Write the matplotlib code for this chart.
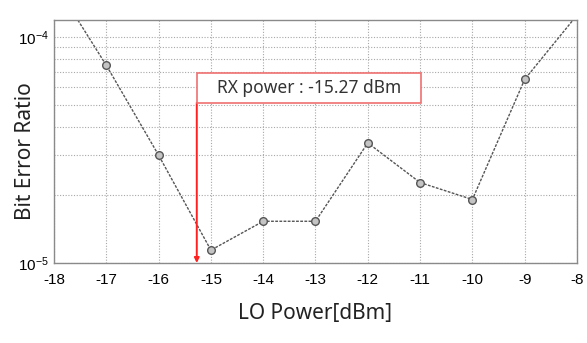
import matplotlib
matplotlib.use("Agg")
import matplotlib.pyplot as plt
from matplotlib.patches import Rectangle
from matplotlib.ticker import LogLocator, NullFormatter

# data
lo_power = [-18, -17, -16, -15, -14, -13, -12, -11, -10, -9, -8]
ber = [1.75e-4, 7.5e-5, 3.0e-5, 1.14e-5, 1.53e-5, 1.53e-5, 3.4e-5, 2.27e-5, 1.91e-5, 6.5e-5, 1.25e-4]
x_ticks = [-18, -17, -16, -15, -14, -13, -12, -11, -10, -9, -8]
rx_power = -15.27
rx_text = "RX power : -15.27 dBm"

fig = plt.figure(figsize=(5.87, 3.43), dpi=100)
ax = fig.add_axes([54 / 587, 1 - 263 / 343, (577 - 54) / 587, (263 - 20) / 343])

ax.plot(lo_power, ber, color="#555555", lw=1.0, ls=(0, (2, 1)),
        marker="o", ms=5.5, mfc="#c4c4c4", mec="#555555", mew=1.0)

ax.set_yscale("log")
ax.set_xlim(-18, -8)
ax.set_ylim(1e-5, 1.19e-4)
ax.set_xticks(x_ticks)
ax.set_xticklabels([str(v) for v in x_ticks], fontsize=11, family="Liberation Sans")
ax.yaxis.set_major_locator(LogLocator(base=10))
ax.yaxis.set_minor_locator(LogLocator(base=10, subs=range(2, 10)))
ax.yaxis.set_minor_formatter(NullFormatter())
for lab in ax.get_yticklabels():
    lab.set_fontsize(11)
    lab.set_family("Liberation Sans")

ax.grid(True, which="both", color="#a8a8a8", ls=(0, (1, 1.5)), lw=0.8)
ax.tick_params(which="both", length=0)
ax.tick_params(axis="x", pad=7)
ax.tick_params(axis="y", pad=4)
for s in ax.spines.values():
    s.set_color("#8a8a8a")
    s.set_linewidth(1.0)

ax.set_xlabel("LO Power[dBm]", fontsize=15, family="Noto Sans", color="#222222")
ax.set_ylabel("Bit Error Ratio", fontsize=15, family="Noto Sans", color="#222222")
ax.xaxis.set_label_coords(0.5, -(313 - 263) / 243)
ax.yaxis.set_label_coords(-(54 - 26) / 523, 0.46)
ax.xaxis.label.set_va("center")
ax.yaxis.label.set_va("center")

# red arrow and text box
box_bottom, box_top, box_right = 5.12e-5, 6.94e-5, -10.98
ax.annotate("", xy=(rx_power, 1e-5), xytext=(rx_power, box_bottom),
            arrowprops=dict(arrowstyle="-|>", color="#ff2020", lw=1.4, mutation_scale=7,
                            shrinkA=0, shrinkB=0))
ax.add_patch(Rectangle((rx_power, box_bottom), box_right - rx_power, box_top - box_bottom,
                       fc="white", ec="#f07070", lw=1.2, zorder=5))
ax.text((rx_power + box_right) / 2, (box_bottom * box_top) ** 0.5, rx_text, fontsize=12.5,
        family="Noto Sans", color="#333333", ha="center", va="center", zorder=6)

fig.savefig("out.png", dpi=100)
